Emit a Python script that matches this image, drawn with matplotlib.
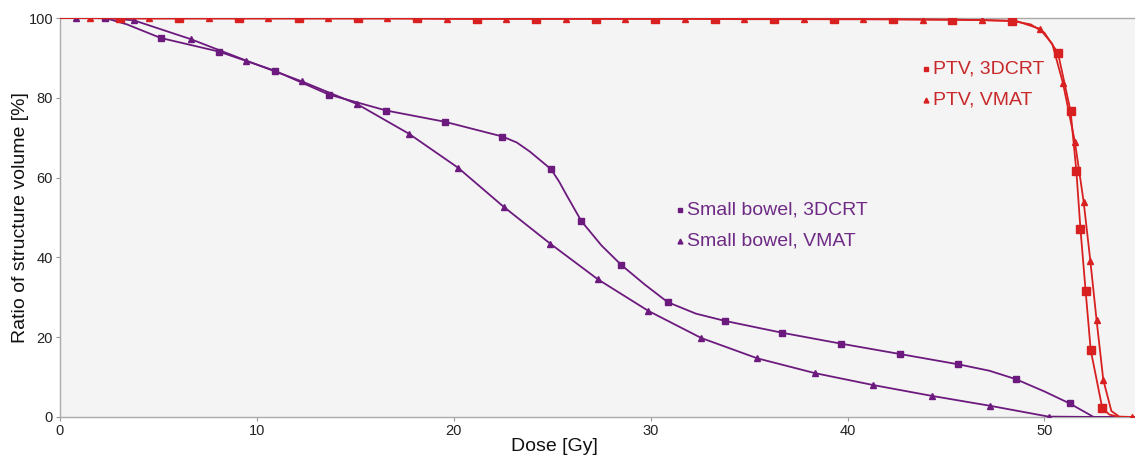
import matplotlib
matplotlib.use("Agg")
import matplotlib.pyplot as plt

plt.rcParams['font.family'] = ['Liberation Sans', 'DejaVu Sans']

PURPLE = "#6c1a7e"
RED = "#d82020"

# Small bowel, 3DCRT: traced line (dose [Gy], volume [%]); marks = marker positions
sb3_dose = [0, 2.29, 3.4, 5.11, 8.06, 10.90, 13.66, 16.58, 19.54, 22.47, 23.2, 23.87,
            24.94, 25.35, 25.73, 26.48, 27.5, 28.51, 29.7, 30.86, 32.3, 33.76, 36.69,
            39.65, 42.64, 45.63, 47.2, 48.54, 50.0, 51.28, 52.5, 54.6]
sb3_vol = [100, 100, 98.4, 95.0, 91.6, 86.8, 80.8, 76.8, 74.0, 70.3, 68.8, 66.5,
           62.1, 59.0, 55.6, 49.1, 43.0, 38.1, 33.2, 28.8, 25.9, 24.1, 21.1,
           18.4, 15.8, 13.2, 11.6, 9.5, 6.4, 3.4, 0, 0]
sb3_marks = [1, 3, 4, 5, 6, 7, 8, 9, 12, 15, 17, 19, 21, 22, 23, 24, 25, 27, 29]

# Small bowel, VMAT
sbv_dose = [0, 0.80, 2.4, 3.76, 6.64, 9.47, 12.29, 15.10, 17.72, 20.21, 22.53, 24.91,
            27.32, 29.88, 32.57, 35.42, 38.34, 41.31, 44.27, 47.25, 50.21, 52.8, 54.6]
sbv_vol = [100, 100, 100, 99.4, 94.7, 89.3, 84.1, 78.4, 71.0, 62.5, 52.7, 43.4,
           34.5, 26.6, 19.8, 14.7, 11.0, 8.0, 5.3, 2.8, 0.1, 0, 0]
sbv_marks = [1] + list(range(3, 21))

# PTV, 3DCRT
ptv3_dose = [0, 3.07, 6.06, 9.08, 12.12, 15.13, 18.15, 21.16, 24.17, 27.21, 30.22,
             33.25, 36.26, 39.29, 42.31, 45.32, 48.35, 49.3, 50.0, 50.69, 51.33,
             51.62, 51.83, 52.09, 52.35, 52.94, 53.3, 53.8, 54.6]
ptv3_vol = [100, 99.9, 99.9, 99.9, 99.9, 99.9, 99.9, 99.8, 99.8, 99.8, 99.8,
            99.8, 99.8, 99.7, 99.7, 99.6, 99.3, 98.4, 96.3, 91.2, 76.6,
            61.7, 47.1, 31.7, 16.8, 2.2, 0.6, 0, 0]
ptv3_marks = list(range(1, 17)) + list(range(19, 26))

# PTV, VMAT
ptvv_dose = [0, 1.54, 4.54, 7.57, 10.58, 13.63, 16.63, 19.65, 22.67, 25.68, 28.72,
             31.73, 34.76, 37.79, 40.81, 43.82, 46.83, 48.6, 49.76, 50.4, 50.94, 51.55,
             51.99, 52.33, 52.65, 52.99, 53.4, 53.8, 54.46, 54.6]
ptvv_vol = [100, 100, 99.9, 99.9, 99.9, 99.9, 99.9, 99.8, 99.8, 99.8, 99.8,
            99.8, 99.7, 99.7, 99.7, 99.6, 99.5, 99.2, 97.3, 93.5, 83.7, 68.9,
            54.0, 39.2, 24.2, 9.3, 1.5, 0.1, 0, 0]
ptvv_marks = list(range(1, 17)) + [18] + list(range(20, 26)) + [28]

x_ticks = [0, 10, 20, 30, 40, 50]
y_ticks = [0, 20, 40, 60, 80, 100]

fig = plt.figure(figsize=(11.35, 4.59), dpi=100)
ax = fig.add_axes([60 / 1135, 1 - 417 / 459, 1 - 60 / 1135, (417 - 18) / 459])
ax.set_facecolor("#f4f4f4")

ax.plot(sbv_dose, sbv_vol, color=PURPLE, lw=1.3, marker="^", ms=5,
        markevery=sbv_marks, zorder=3)
ax.plot(sb3_dose, sb3_vol, color=PURPLE, lw=1.3, marker="s", ms=5,
        markevery=sb3_marks, zorder=3)
ax.plot(ptvv_dose, ptvv_vol, color=RED, lw=1.3, marker="^", ms=5,
        markevery=ptvv_marks, zorder=4)
ax.plot(ptv3_dose, ptv3_vol, color=RED, lw=1.3, marker="s", ms=5.5,
        markevery=ptv3_marks, zorder=4)

ax.set_xlim(0, 54.6)
ax.set_ylim(0, 100)
ax.set_xticks(x_ticks)
ax.set_yticks(y_ticks)
ax.tick_params(labelsize=10.5, colors="#222222", length=3, width=0.8, pad=2)
ax.tick_params(axis="both", color="#999999")

for side in ["left", "bottom", "top"]:
    ax.spines[side].set_color("#aaaaaa")
    ax.spines[side].set_linewidth(1.0)
ax.spines["right"].set_visible(False)

ax.set_xlabel("Dose [Gy]", fontsize=14, color="#111111")
ax.xaxis.set_label_coords((554 - 60) / 1075, -0.052)
ax.set_ylabel("Ratio of structure volume [%]", fontsize=14, color="#111111")
ax.yaxis.set_label_coords(-0.029, 0.5)

# in-plot legend labels
legend_items = [
    (680, 210, "s", PURPLE, "#6e2a85", "Small bowel, 3DCRT"),
    (680, 241, "^", PURPLE, "#6e2a85", "Small bowel, VMAT"),
    (926, 69, "s", RED, "#c8282a", "PTV, 3DCRT"),
    (926, 100, "^", RED, "#c8282a", "PTV, VMAT"),
]
for px, py, mk, mc, tc, label in legend_items:
    fx, fy = px / 1135, 1 - py / 459
    fig.lines.append(plt.Line2D([fx], [fy], marker=mk, ms=3.5, color=mc,
                                transform=fig.transFigure, linestyle="none"))
    fig.text(fx + 7 / 1135, fy, label, fontsize=14, color=tc, va="center", ha="left")

fig.savefig("out.png", dpi=100)
